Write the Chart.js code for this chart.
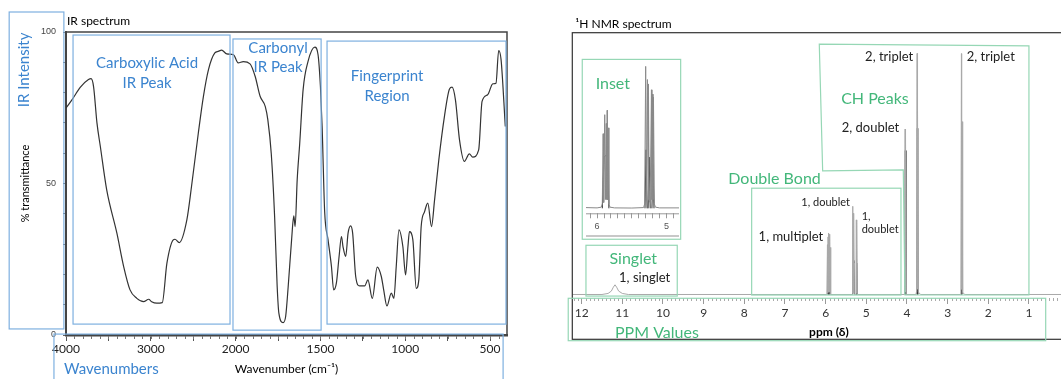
<!DOCTYPE html>
<html>
<head>
  <title>IR and NMR spectra</title>
  <meta name="viewport" content="width=device-width, initial-scale=1.0">
  <script src="https://cdn.jsdelivr.net/npm/chart.js"></script>
  <style>
    body {
      margin: 0;
      width: 1061px;
      height: 379px;
      overflow: hidden;
      background: #fff;
      position: relative;
      font-family: Lato, sans-serif;
    }
    .panel { position: absolute; }
    #irBox { left: 0; top: 0; width: 530px; height: 379px; }
    #nmrBox { left: 540px; top: 0; width: 540px; height: 379px; }
    #insetBox { left: 584px; top: 62px; width: 96px; height: 176px; }
  </style>
</head>
<body>
  <div class="panel" id="irBox"><canvas id="irChart"></canvas></div>
  <div class="panel" id="nmrBox"><canvas id="nmrChart"></canvas></div>
  <div class="panel" id="insetBox"><canvas id="insetChart"></canvas></div>
  <script>
    // IR spectrum (cm-1, % transmittance)
    const irWave = [4000,3930,3830,3735,3705,3675,3635,3595,3520,3400,3320,3245,3165,3085,3025,2990,2930,2865,2810,2735,2715,2665,2575,2520,2440,2380,2320,2245,2205,2165,2105,2025,1985,1955,1915,1885,1855,1825,1810,1790,1770,1755,1745,1720,1705,1690,1670,1657,1649,1637,1622,1602,1573,1533,1514,1500,1490,1475,1455,1435,1422,1406,1390,1376,1367,1351,1337,1322,1310,1292,1269,1239,1220,1194,1165,1141,1127,1108,1082,1067,1053,1037,1014,998,984,975,955,935,920,906,886,867,845,827,802,769,739,724,704,680,651,622,602,567,547,514,484,465,449,435,410];
    const irTrans = [74.9,77.6,81.8,84.3,84.6,82,70,62.2,47.9,33.6,22.6,14.9,12.1,11.0,11.8,11.0,10.5,10.7,23.7,31.4,31.6,30.5,38,49,66.6,78.7,87.6,93.1,93.6,94,92.8,92.5,89.8,90.2,89.5,85.4,78.7,75.4,71,60,39,16,7.2,4.1,6.1,16,31.4,39.3,35.8,51.2,63.3,81,90.3,95,92.5,82,68.8,40.7,31.4,22.6,14.9,17.1,25.9,32.5,29.2,25.9,33.6,36,33.6,19.3,16.2,16.2,18.2,12.1,22.4,19.3,14.9,9.6,13.8,12.1,22.6,34.7,29.2,19.8,29.2,34.1,31.4,15.4,18.2,35.8,40.7,43.5,35.8,44.6,57.8,72.1,81.2,81.8,77.6,64.4,57.3,59.8,58.7,61.1,77.1,79.3,82.9,83.1,93.9,90.9,68.8];
    const irTickWave = [4000,3500,3000,2500,2000,1750,1500,1250,1000,750,500];
    const irTickLabels = [4000,3000,2000,1500,1000,500];

    // 1H NMR spectrum (ppm, relative intensity); light trace and darker cores
    const nmrPpm = [12.23,11.5,11.35,11.27,11.22,11.18,11.14,11.09,11.0,10.85,
      5.97,5.955,5.95,5.94,5.935,5.925,5.92,5.91,5.905,5.895,5.89,5.88,5.87,
      5.345,5.335,5.33,5.32,5.315,5.305,5.295,
      5.255,5.245,5.24,5.23,5.22,
      4.06,4.045,4.04,4.03,4.015,
      3.78,3.765,3.75,3.745,3.735,3.72,3.70,3.66,
      2.69,2.675,2.66,2.655,2.645,2.63,2.61,2.57,0];
    const nmrInt = [0,0,0.4,1.3,2.8,3.7,2.8,1.3,0.4,0,
      0,19,0.5,22,1,23.5,1,23,1,21.5,0.5,18,0,
      0,33.7,0.5,31,0.5,30,0,
      0,28.5,0.5,27.5,0,
      0,63.2,1,60,0,
      0,1,92.1,2,70,1,0.5,0,
      0,1,92,2,66,1,0.3,0,0];
    const nmrCorePpm = [5.95,5.935,5.92,5.905,5.89,5.89, 5.335,5.32,5.305,5.29,5.29, 5.25,5.235,5.22,5.22, 4.05,4.04,4.025,4.025, 3.755,3.745,3.735,3.735, 2.665,2.655,2.645];
    const nmrCoreInt = [0,12.7,0,12.5,0,null, 0,13,12,0,null, 0,12,0,null, 0,55,0,null, 0,63.5,0,null, 0,60.4,0];
    const nmrTickPpm = [1,2,3,4,5,6,7,8,9,10,11,12];

    // inset: 6.2 - 4.8 ppm enlarged
    const insetPpm = [6.16,6.0,5.94,5.925,5.913,5.905,5.89,5.88,5.868,5.86,5.855,5.85,5.84,5.83,5.815,5.75,5.5,5.33,5.315,5.30,5.29,5.275,5.265,5.26,5.25,5.235,5.217,5.21,5.2,5.195,5.188,5.175,5.16,5.1,4.82];
    const insetInt = [0.5,0.3,0.8,3,51,4,64,6,58,6,67,6,55,3,0.8,0.3,0.2,0.5,3,97,6,88,6,85,5,4,81,6,78,6,76,3,0.8,0.3,0.3];
    const insetCorePpm = [5.925,5.9,5.875,5.85,5.83,5.83, 5.31,5.295,5.28,5.28, 5.265,5.25,5.235,5.235, 5.21,5.195,5.18];
    const insetCoreInt = [0,35,36,35,0,null, 0,40,0,null, 0,35,0,null, 0,30,0];
    const insetTickLabels = [5,6];

    // annotations: [from x, to x, top y, bottom y] in data units
    const irBoxes = [[4670,4025,106.6,2],[3917,2066,99,3.6],[2031,1496,97.7,1.6],[1461,406,97,3.6],[4142,423,0.3,-16]];
    const irNotes = [
      {text: 'Carboxylic Acid', x: 3044, y: 89.8},
      {text: 'IR Peak', x: 3044, y: 83.2},
      {text: 'Carbonyl', x: 1750, y: 94.7},
      {text: 'IR Peak', x: 1750, y: 88.4},
      {text: 'Fingerprint', x: 1107, y: 85.5},
      {text: 'Region', x: 1107, y: 78.9},
      {text: 'IR Intensity', x: 4495, y: 87.5, rot: true},
      {text: 'Wavenumbers', x: 4024, y: -11.2, align: 'left'}
    ];
    const nmrBoxes = [[11.985,9.565,89.8,21.1],[11.894,9.649,18.8,-0.6],[12.33,0.588,-1.45,-17.65],[7.819,4.147,40.6,-0.2]];
    const chShape = [[6.156,95.6],[1.0,95.0],[1.0,-0.2],[4.049,-0.2],[4.09,47.6],[6.073,47.2]];
    const nmrGreen = [
      {text: 'Inset', x: 11.656, y: 80.4, align: 'left'},
      {text: 'Singlet', x: 10.73, y: 13.8},
      {text: 'PPM Values', x: 11.18, y: -14.8, align: 'left'},
      {text: 'Double Bond', x: 8.394, y: 44.1, align: 'left'},
      {text: 'CH Peaks', x: 4.787, y: 74.7}
    ];
    const nmrBlack = [
      {text: '1, singlet', x: 11.08, y: 6.4, align: 'left'},
      {text: '2, triplet', x: 3.845, y: 90.8, align: 'right'},
      {text: '2, triplet', x: 2.531, y: 90.8, align: 'left'},
      {text: '2, doublet', x: 4.189, y: 63.5, align: 'right'},
      {text: '1, multiplet', x: 6.058, y: 22.1, align: 'right'},
      {text: '1, doublet', x: 5.4, y: 35.3, align: 'right', small: true},
      {text: '1,', x: 5.114, y: 30, align: 'left', small: true},
      {text: 'doublet', x: 5.114, y: 24.9, align: 'left', small: true}
    ];

    const FONT = 'Lato, "Open Sans", sans-serif';
    const BLUE_TEXT = '#3b84cf', BLUE_LINE = '#7eb0e0';
    const GREEN_TEXT = '#43b77a', GREEN_LINE = '#96d7b5';
    Chart.defaults.font.family = FONT;
    Chart.defaults.animation = false;

    // IR axis is split: 4000-2000 at half the scale of 2000-400
    function irPos(w) { return w >= 2000 ? (4000 - w) / 2 : 1000 + (2000 - w); }
    function irWaveAt(p) { return p <= 1000 ? 4000 - 2 * p : 2000 - (p - 1000); }

    function writeText(ctx, t, x, y, font, color) {
      ctx.save();
      ctx.font = font;
      ctx.fillStyle = color;
      ctx.textBaseline = 'middle';
      ctx.textAlign = t.align || 'center';
      if (t.rot) {
        ctx.translate(x, y);
        ctx.rotate(-Math.PI / 2);
        ctx.fillText(t.text, 0, 0);
      } else {
        ctx.fillText(t.text, x, y);
      }
      ctx.restore();
    }

    const irDecor = {
      id: 'irDecor',
      afterDraw(chart) {
        const {ctx, chartArea: a, scales: {x, y}} = chart;
        const X = w => x.getPixelForValue(irPos(w));
        const Y = v => y.getPixelForValue(v);
        ctx.save();
        ctx.strokeStyle = '#444';
        ctx.lineWidth = 1.5;
        ctx.beginPath();
        ctx.moveTo(a.left, a.top);
        ctx.lineTo(a.right, a.top);
        ctx.lineTo(a.right, a.bottom);
        ctx.stroke();
        // minor ticks: every 100 above 2000, every 50 below
        ctx.strokeStyle = '#777';
        ctx.lineWidth = 1;
        ctx.beginPath();
        for (let w = 3900; w > 400; w -= (w > 2000 ? 100 : 50)) {
          const px = Math.round(X(w)) + 0.5;
          ctx.moveTo(px, a.bottom + 1);
          ctx.lineTo(px, a.bottom + 4);
        }
        ctx.stroke();
        ctx.strokeStyle = BLUE_LINE;
        ctx.lineWidth = 1.2;
        irBoxes.forEach(b => ctx.strokeRect(X(b[0]), Y(b[2]), X(b[1]) - X(b[0]), Y(b[3]) - Y(b[2])));
        ctx.restore();
        irNotes.forEach(n => writeText(ctx, n, X(n.x), Y(n.y), '15px ' + FONT, BLUE_TEXT));
        writeText(ctx, {text: 'IR spectrum', align: 'left'}, a.left + 1, 21, '12px ' + FONT, '#000');
      }
    };

    new Chart(document.getElementById('irChart'), {
      type: 'line',
      data: {
        datasets: [{
          data: irWave.map((w, i) => ({x: irPos(w), y: irTrans[i]})),
          borderColor: '#333',
          borderWidth: 1.2,
          pointRadius: 0,
          cubicInterpolationMode: 'monotone'
        }]
      },
      options: {
        responsive: true,
        maintainAspectRatio: false,
        layout: { padding: { left: 0, top: 32, right: 23, bottom: 0 } },
        plugins: { legend: { display: false }, tooltip: { enabled: false } },
        scales: {
          x: {
            type: 'linear',
            min: 0,
            max: irPos(400),
            afterBuildTicks: s => { s.ticks = irTickWave.map(w => ({value: irPos(w)})); },
            afterFit: s => { s.height = 44; },
            ticks: {
              autoSkip: false,
              maxRotation: 0,
              padding: 1,
              color: '#222',
              font: { size: 12 },
              callback: v => {
                const w = Math.round(irWaveAt(v));
                return irTickLabels.includes(w) ? String(w) : '';
              }
            },
            grid: { drawOnChartArea: false, tickLength: 6, tickColor: '#555' },
            border: { color: '#444', width: 2.5 },
            title: { display: true, text: 'Wavenumber (cm\u207B\u00B9)', color: '#000', font: { size: 12 }, padding: { top: 0, bottom: 3 } }
          },
          y: {
            min: 0,
            max: 100,
            afterFit: s => { s.width = 66; },
            ticks: {
              stepSize: 10,
              padding: 7,
              color: '#444',
              font: { size: 9, family: '"Liberation Sans", sans-serif' },
              callback: v => (v % 50 === 0 ? v : '')
            },
            grid: { drawOnChartArea: false, tickLength: 3, tickColor: '#666' },
            border: { color: '#444', width: 2 },
            title: { display: true, text: '% transmittance', color: '#000', font: { size: 11 }, padding: { top: 19, bottom: 0 } }
          }
        }
      },
      plugins: [irDecor]
    });

    const nmrDecor = {
      id: 'nmrDecor',
      afterDraw(chart) {
        const {ctx, chartArea: a, scales: {x, y}} = chart;
        const X = v => x.getPixelForValue(v);
        const Y = v => y.getPixelForValue(v);
        ctx.save();
        // frame round plot and axis
        ctx.strokeStyle = '#333';
        ctx.lineWidth = 1.2;
        ctx.strokeRect(a.left, a.top, a.right - a.left, 339.3 - a.top);
        // minor ticks every 0.1 ppm
        ctx.strokeStyle = '#aaa';
        ctx.lineWidth = 1;
        ctx.beginPath();
        for (let k = 1; k <= 122; k++) {
          if (k % 10 === 0) continue;
          const px = Math.round(X(k / 10)) + 0.5;
          ctx.moveTo(px, a.bottom);
          ctx.lineTo(px, a.bottom + 3);
        }
        ctx.stroke();
        // green boxes
        ctx.strokeStyle = GREEN_LINE;
        ctx.lineWidth = 1.2;
        nmrBoxes.forEach(b => ctx.strokeRect(X(b[0]), Y(b[2]), X(b[1]) - X(b[0]), Y(b[3]) - Y(b[2])));
        ctx.beginPath();
        chShape.forEach((p, i) => (i ? ctx.lineTo(X(p[0]), Y(p[1])) : ctx.moveTo(X(p[0]), Y(p[1]))));
        ctx.closePath();
        ctx.stroke();
        ctx.restore();
        nmrGreen.forEach(n => writeText(ctx, n, X(n.x), Y(n.y), '16px ' + FONT, GREEN_TEXT));
        nmrBlack.forEach(n => writeText(ctx, n, X(n.x), Y(n.y), (n.small ? '11px ' : '13px ') + FONT, '#222'));
        writeText(ctx, {text: 'ppm (\u03B4)'}, X(5.92), Y(-14.3), 'bold 12px ' + FONT, '#000');
        writeText(ctx, {text: '\u00B9H NMR spectrum', align: 'left'}, a.left + 3, 24, '12px ' + FONT, '#000');
      }
    };

    new Chart(document.getElementById('nmrChart'), {
      type: 'line',
      data: {
        datasets: [
          {
            data: nmrPpm.map((p, i) => ({x: p, y: nmrInt[i]})),
            borderColor: '#a9a9a9',
            borderWidth: 1,
            pointRadius: 0,
            tension: 0
          },
          {
            data: nmrCorePpm.map((p, i) => ({x: p, y: nmrCoreInt[i]})),
            borderColor: '#3a3a3a',
            borderWidth: 1,
            pointRadius: 0,
            tension: 0,
            spanGaps: false
          }
        ]
      },
      options: {
        responsive: true,
        maintainAspectRatio: false,
        layout: { padding: { left: 32.3, top: 32.7, right: 10.4, bottom: 0 } },
        plugins: { legend: { display: false }, tooltip: { enabled: false } },
        scales: {
          x: {
            type: 'linear',
            reverse: true,
            min: 0,
            max: 12.23,
            afterBuildTicks: s => { s.ticks = nmrTickPpm.map(v => ({value: v})); },
            afterFit: s => { s.height = 81; },
            ticks: { autoSkip: false, maxRotation: 0, padding: 2, color: '#333', font: { size: 12 }, callback: v => String(v) },
            grid: { drawOnChartArea: false, tickLength: 6, tickColor: '#999' },
            border: { display: false }
          },
          y: { display: false, min: -1.34, max: 100 }
        }
      },
      plugins: [nmrDecor]
    });

    const insetDecor = {
      id: 'insetDecor',
      afterDraw(chart) {
        const {ctx, chartArea: a, height} = chart;
        ctx.save();
        ctx.strokeStyle = '#999';
        ctx.lineWidth = 1;
        ctx.beginPath();
        ctx.moveTo(a.left, a.bottom + 0.5);
        ctx.lineTo(a.right, a.bottom + 0.5);
        ctx.stroke();
        ctx.strokeStyle = '#c8c8c8';
        ctx.lineWidth = 2;
        ctx.beginPath();
        ctx.moveTo(a.left, height - 2);
        ctx.lineTo(a.right, height - 2);
        ctx.stroke();
        ctx.restore();
      }
    };

    new Chart(document.getElementById('insetChart'), {
      type: 'line',
      data: {
        datasets: [
          {
            data: insetPpm.map((p, i) => ({x: p, y: insetInt[i]})),
            borderColor: '#8a8a8a',
            borderWidth: 1,
            pointRadius: 0,
            tension: 0
          },
          {
            data: insetCorePpm.map((p, i) => ({x: p, y: insetCoreInt[i]})),
            borderColor: '#333',
            borderWidth: 1,
            pointRadius: 0,
            tension: 0,
            spanGaps: false
          }
        ]
      },
      options: {
        responsive: true,
        maintainAspectRatio: false,
        layout: { padding: { left: 2, top: 0, right: 1, bottom: 0 } },
        plugins: { legend: { display: false }, tooltip: { enabled: false } },
        scales: {
          x: {
            type: 'linear',
            reverse: true,
            min: 4.82,
            max: 6.16,
            afterBuildTicks: s => {
              s.ticks = [];
              for (let k = 49; k <= 61; k++) s.ticks.push({value: k / 10});
            },
            afterFit: s => { s.height = 24.7; },
            ticks: {
              autoSkip: false,
              maxRotation: 0,
              padding: 3,
              color: '#555',
              font: { size: 9, family: '"Liberation Sans", sans-serif' },
              callback: v => (insetTickLabels.includes(Math.round(v * 10) / 10) ? String(Math.round(v)) : '')
            },
            grid: { drawOnChartArea: false, tickLength: 5, tickColor: '#999' },
            border: { display: false }
          },
          y: { display: false, min: -3.4, max: 100 }
        }
      },
      plugins: [insetDecor]
    });
  </script>
</body>
</html>
